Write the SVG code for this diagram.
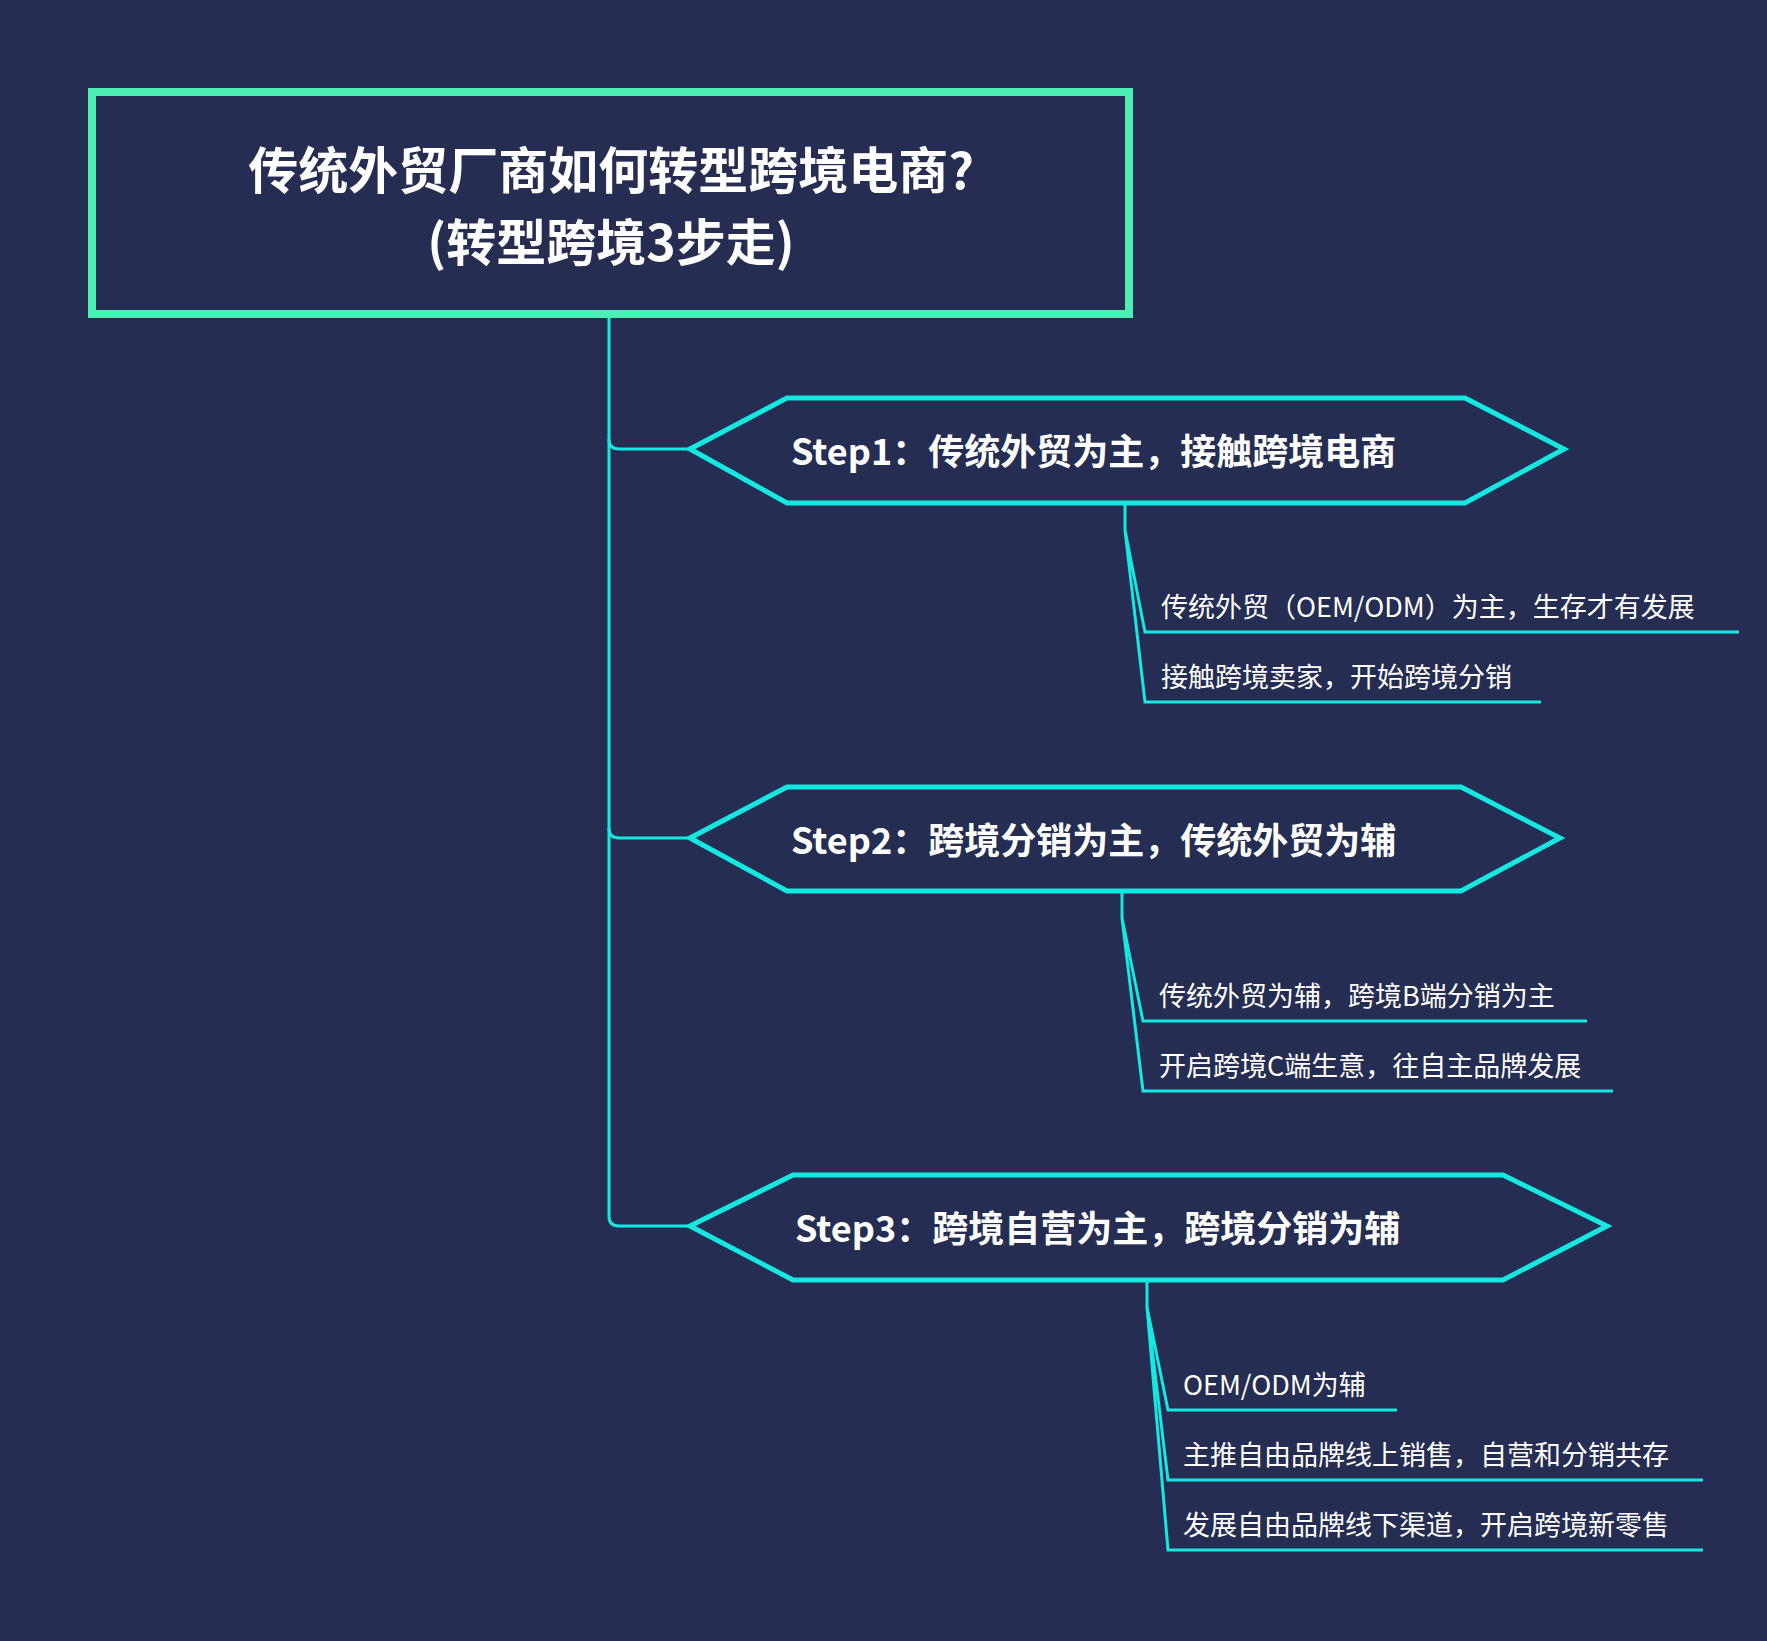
<svg xmlns="http://www.w3.org/2000/svg" width="1767" height="1641" viewBox="0 0 1767 1641">
<style>
.c{fill:none;stroke:#14e8e0;stroke-width:3}
.hex{fill:#252d52;stroke:#14e8e0;stroke-width:5}
.t{font-family:"Noto Sans CJK SC","Noto Sans",sans-serif;fill:#ffffff;dominant-baseline:central}
.h{font-size:36px;font-weight:bold}
.s{font-size:27px}
</style>
<rect width="1767" height="1641" fill="#252d52"/>
<g id="connectors">
<path class="c" d="M609 316V439Q609 449 619 449H690"/>
<path class="c" d="M609 439V828Q609 838 619 838H690"/>
<path class="c" d="M609 828V1216Q609 1226 619 1226H690"/>
<path class="c" d="M1125 503V530L1145 632H1739M1125 530L1145 702H1541"/>
<path class="c" d="M1122 891V918L1143 1021H1587M1122 918L1143 1091H1613"/>
<path class="c" d="M1147 1280V1307L1168 1410H1397M1147 1307L1168 1480H1703M1147 1307L1168 1550H1703"/>
</g>
<g id="root">
<rect x="92" y="92" width="1037" height="222" fill="#252d52" stroke="#4cf0b4" stroke-width="8"/>
<text class="t" x="611" y="167" text-anchor="middle" font-size="50" font-weight="bold">传统外贸厂商如何转型跨境电商?</text>
<text class="t" x="611" y="239" text-anchor="middle" font-size="50" font-weight="bold">(转型跨境3步走)</text>
</g>
<g id="step1">
<polygon class="hex" points="690,449 787,398 1465,398 1564,449 1465,503 787,503"/>
<text class="t h" x="791" y="449">Step1：传统外贸为主，接触跨境电商</text>
</g>
<g id="step2">
<polygon class="hex" points="690,838 787,787 1461,787 1560,838 1461,891 787,891"/>
<text class="t h" x="791" y="838">Step2：跨境分销为主，传统外贸为辅</text>
</g>
<g id="step3">
<polygon class="hex" points="690,1226 793,1175 1503,1175 1607,1226 1503,1280 793,1280"/>
<text class="t h" x="795" y="1226">Step3：跨境自营为主，跨境分销为辅</text>
</g>
<g id="s1a"><text class="t s" x="1161" y="605">传统外贸（OEM/ODM）为主，生存才有发展</text></g>
<g id="s1b"><text class="t s" x="1161" y="675">接触跨境卖家，开始跨境分销</text></g>
<g id="s2a"><text class="t s" x="1159" y="994">传统外贸为辅，跨境B端分销为主</text></g>
<g id="s2b"><text class="t s" x="1159" y="1064">开启跨境C端生意，往自主品牌发展</text></g>
<g id="s3a"><text class="t s" x="1183" y="1383">OEM/ODM为辅</text></g>
<g id="s3b"><text class="t s" x="1183" y="1453">主推自由品牌线上销售，自营和分销共存</text></g>
<g id="s3c"><text class="t s" x="1183" y="1523">发展自由品牌线下渠道，开启跨境新零售</text></g>
</svg>
